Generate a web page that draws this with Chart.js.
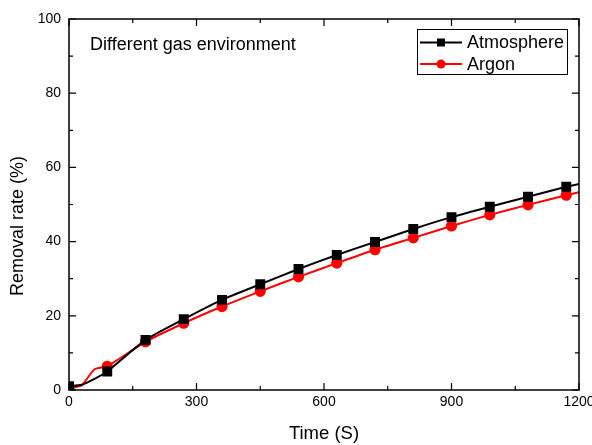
<!DOCTYPE html>
<html>
<head>
<meta charset="utf-8">
<script src="https://cdn.jsdelivr.net/npm/chart.js@4.4.0/dist/chart.umd.min.js"></script>
<style>
  html, body { margin: 0; padding: 0; background: #fff; }
</style>
</head>
<body>
<canvas id="grafico" width="592" height="445"></canvas>
<script>
// Datos
const tiempo = [0, 30, 60, 90, 180, 270, 360, 450, 540, 630, 720, 810, 900, 990, 1080, 1170, 1200];
const atmosfera = [1.0, 1.4, 3.0, 5.0, 13.5, 19.1, 24.3, 28.5, 32.6, 36.4, 39.9, 43.4, 46.6, 49.4, 52.1, 54.8, 55.5];
const argon = [0.4, 1.3, 5.6, 6.4, 13.0, 18.0, 22.5, 26.6, 30.5, 34.2, 37.8, 41.0, 44.2, 47.2, 49.9, 52.5, 53.3];
const etiquetas = ["Atmosphere", "Argon"];
const textoNota = "Different gas environment";

const FUENTE = "'Liberation Sans', Arial, sans-serif";

// marcador solo cada 90 s
const radios = (r) => tiempo.map(t => (t % 90 === 0 ? r : 0));

// Marco, ticks hacia adentro, leyenda y textos
const marcoPlugin = {
    id: "marco",
    afterDatasetsDraw(chart) {
        const { ctx, chartArea: a, scales: { x, y } } = chart;
        ctx.save();
        ctx.strokeStyle = "#000";
        ctx.lineWidth = 1.5;
        ctx.strokeRect(a.left, a.top, a.right - a.left, a.bottom - a.top);

        ctx.lineWidth = 1.2;
        ctx.beginPath();
        for (let v = 0; v <= 1200; v += 150) {
            const px = x.getPixelForValue(v);
            const len = v % 300 === 0 ? 7 : 4;
            ctx.moveTo(px, a.bottom); ctx.lineTo(px, a.bottom - len);
            ctx.moveTo(px, a.top); ctx.lineTo(px, a.top + len);
        }
        for (let v = 0; v <= 100; v += 10) {
            const py = y.getPixelForValue(v);
            const len = v % 20 === 0 ? 7 : 4;
            ctx.moveTo(a.left, py); ctx.lineTo(a.left + len, py);
            ctx.moveTo(a.right, py); ctx.lineTo(a.right - len, py);
        }
        ctx.stroke();

        // nota
        ctx.fillStyle = "#000";
        ctx.font = "18px " + FUENTE;
        ctx.textBaseline = "middle";
        ctx.textAlign = "left";
        ctx.fillText(textoNota, 90, 45);

        // leyenda
        ctx.lineWidth = 1;
        ctx.strokeStyle = "#000";
        ctx.strokeRect(417.5, 29.5, 150, 45);
        chart.data.datasets.forEach((ds, i) => {
            const cy = 42.5 + i * 21.5;
            ctx.strokeStyle = ds.borderColor;
            ctx.lineWidth = 2;
            ctx.beginPath();
            ctx.moveTo(420, cy); ctx.lineTo(462, cy);
            ctx.stroke();
            ctx.fillStyle = ds.borderColor;
            if (ds.pointStyle === "rect") {
                ctx.fillRect(437, cy - 4, 8, 8);
            } else {
                ctx.beginPath();
                ctx.arc(441, cy, 4.5, 0, Math.PI * 2);
                ctx.fill();
            }
            ctx.fillStyle = "#000";
            ctx.font = "18px " + FUENTE;
            ctx.fillText(ds.label, 467, cy + 1);
        });

        // titulo eje y
        ctx.save();
        ctx.translate(18, 226);
        ctx.rotate(-Math.PI / 2);
        ctx.textAlign = "center";
        ctx.font = "18px " + FUENTE;
        ctx.fillText("Removal rate (%)", 0, 0);
        ctx.restore();

        ctx.restore();
    }
};

const ctx = document.getElementById("grafico").getContext("2d");
new Chart(ctx, {
    type: "line",
    data: {
        labels: tiempo,
        datasets: [
            {
                label: etiquetas[0],
                data: tiempo.map((t, i) => ({ x: t, y: atmosfera[i] })),
                borderColor: "#000000",
                backgroundColor: "#000000",
                borderWidth: 2,
                pointStyle: "rect",
                pointRadius: radios(5.6),
                pointHoverRadius: radios(5.6),
                tension: 0.2
            },
            {
                label: etiquetas[1],
                data: tiempo.map((t, i) => ({ x: t, y: argon[i] })),
                borderColor: "#ff0000",
                backgroundColor: "#ff0000",
                borderWidth: 2,
                pointStyle: "circle",
                pointRadius: radios(4.6),
                pointHoverRadius: radios(4.6),
                tension: 0.2
            }
        ]
    },
    options: {
        responsive: false,
        animation: false,
        devicePixelRatio: 1,
        layout: { padding: { top: 19, right: 13, left: 0, bottom: 0 } },
        plugins: {
            legend: { display: false },
            tooltip: { enabled: false }
        },
        scales: {
            x: {
                type: "linear",
                min: 0,
                max: 1200,
                afterFit: (s) => { s.height = 55; s.paddingLeft = 0; s.paddingRight = 0; },
                grid: { display: false, drawTicks: false },
                border: { display: false },
                ticks: {
                    stepSize: 150,
                    padding: 4,
                    color: "#000",
                    font: { family: FUENTE, size: 14 },
                    maxRotation: 0,
                    autoSkip: false,
                    callback: (v) => (v % 300 === 0 ? v : "")
                },
                title: {
                    display: true,
                    text: "Time (S)",
                    color: "#000",
                    font: { family: FUENTE, size: 18.5 },
                    padding: { top: 0, bottom: 0 }
                }
            },
            y: {
                min: 0,
                max: 100,
                afterFit: (s) => { s.width = 69; s.paddingTop = 0; s.paddingBottom = 0; },
                grid: { display: false, drawTicks: false },
                border: { display: false },
                ticks: {
                    stepSize: 10,
                    padding: 8,
                    color: "#000",
                    font: { family: FUENTE, size: 14 },
                    autoSkip: false,
                    callback: (v) => (v % 20 === 0 ? v : "")
                }
            }
        }
    },
    plugins: [marcoPlugin]
});
</script>
</body>
</html>
